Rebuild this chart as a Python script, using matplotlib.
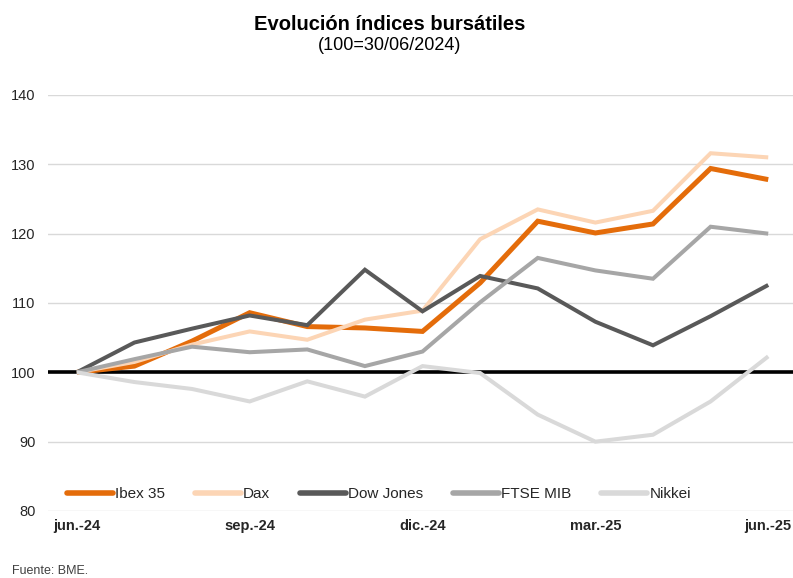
import matplotlib
matplotlib.use("Agg")
import matplotlib.pyplot as plt

plt.rcParams['font.family'] = ['Liberation Sans', 'DejaVu Sans']

months = ["jun.-24", "jul.-24", "ago.-24", "sep.-24", "oct.-24", "nov.-24", "dic.-24",
          "ene.-25", "feb.-25", "mar.-25", "abr.-25", "may.-25", "jun.-25"]
tick_labels = ["jun.-24", "sep.-24", "dic.-24", "mar.-25", "jun.-25"]
tick_idx = [0, 3, 6, 9, 12]

ibex = [100, 100.9, 104.5, 108.6, 106.6, 106.4, 105.9, 112.9, 121.8, 120.1, 121.4, 129.4, 127.8]
dax = [100, 101.5, 104.0, 105.9, 104.7, 107.6, 108.9, 119.2, 123.5, 121.6, 123.3, 131.6, 131.0]
dow = [100, 104.3, 106.3, 108.2, 106.8, 114.8, 108.8, 113.9, 112.1, 107.3, 103.9, 108.1, 112.6]
ftse = [100, 101.9, 103.7, 102.9, 103.3, 100.9, 103.0, 110.1, 116.5, 114.7, 113.5, 121.0, 120.0]
nikkei = [100, 98.6, 97.6, 95.8, 98.7, 96.5, 100.9, 99.9, 93.9, 90.0, 91.0, 95.8, 102.3]

series = [
    ("Ibex 35", ibex, "#E46C0A", 3.6),
    ("Dax", dax, "#FCD5B5", 2.9),
    ("Dow Jones", dow, "#595959", 2.9),
    ("FTSE MIB", ftse, "#A6A6A6", 2.9),
    ("Nikkei", nikkei, "#D9D9D9", 2.9),
]

fig = plt.figure(figsize=(7.93, 5.78), dpi=100)
ax = fig.add_axes([48/793, 67/578, 745/793, 416/578])

x = list(range(len(months)))
ax.set_ylim(80, 140)
ax.set_xlim(-0.5, 12.43)
ax.set_yticks([80, 90, 100, 110, 120, 130, 140])
ax.grid(axis='y', color='#D9D9D9', linewidth=1.0)
ax.set_axisbelow(True)
ax.axhline(100, color='black', linewidth=2.6, zorder=1.5)

for i, (name, vals, col, lw) in enumerate(series):
    ax.plot(x, vals, color=col, linewidth=lw, label=name, zorder=2 + i,
            solid_joinstyle='miter', solid_capstyle='butt')

for s in ax.spines.values():
    s.set_visible(False)
ax.tick_params(axis='both', length=0)
ax.tick_params(axis='y', pad=9, labelsize=10.5, labelcolor='#262626')
ax.set_xticks(tick_idx)
ax.set_xticklabels(tick_labels, fontweight='bold', fontsize=10.5, color='#262626')
ax.tick_params(axis='x', pad=6)

leg = ax.legend(loc='center left', bbox_to_anchor=(13/745, 1 - (494 - 95) / 416),
                ncol=5, frameon=False, fontsize=11, handlelength=3.0,
                handletextpad=0.15, columnspacing=1.95, borderaxespad=0)
for t in leg.get_texts():
    t.set_color('#262626')
for h in leg.get_lines():
    h.set_linewidth(4.0)
    h.set_solid_capstyle('round')

fig.text(390/793, 1 - 25/578, "Evolución índices bursátiles", ha='center', va='center',
         fontsize=14.5, fontweight='bold', color='black')
fig.text(390/793, 1 - 46/578, "(100=30/06/2024)", ha='center', va='center',
         fontsize=13, color='black')
fig.text(12/793, 1 - 571/578, "Fuente: BME.", ha='left', va='center',
         fontsize=9, color='#404040')

fig.savefig("out.png", dpi=100)
